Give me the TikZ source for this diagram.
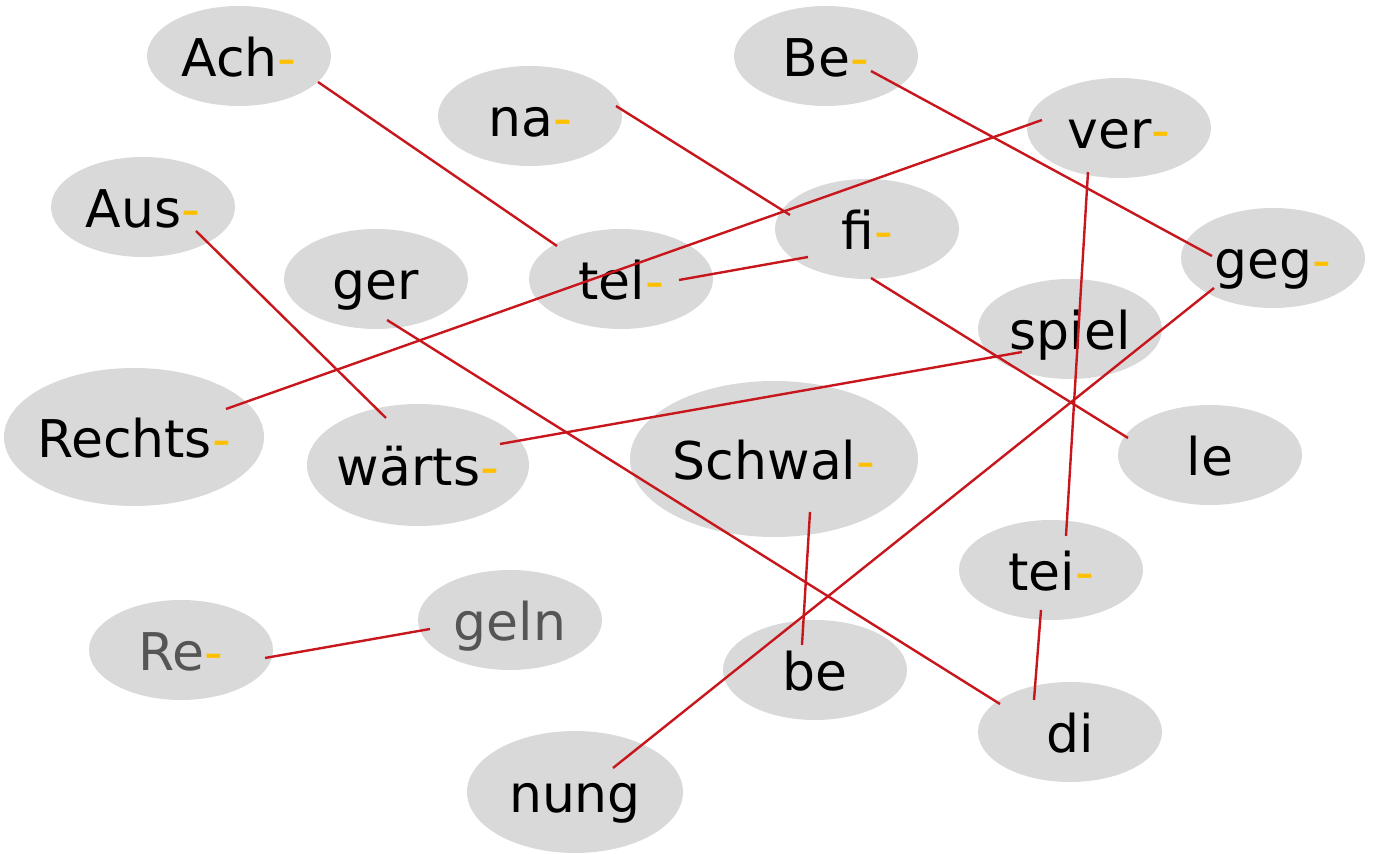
\documentclass[tikz,border=0pt]{standalone}
\usepackage{fontspec}
\setmainfont{DejaVu Sans}
\usetikzlibrary{shapes.geometric}
\definecolor{bubble}{HTML}{D9D9D9}
\definecolor{hyph}{HTML}{FFC000}
\definecolor{link}{HTML}{C8161D}
\definecolor{greytxt}{HTML}{555555}
\newcommand{\hy}{\textcolor{hyph}{-}}
\tikzset{
	syl/.style={ellipse, fill=bubble, inner sep=0pt, text height=26pt, text depth=5pt, minimum width=92pt, minimum height=50pt, font=\fontsize{26}{30}\selectfont},
	link/.style={draw=link, line width=1.2pt}
}
\begin{document}
\begin{tikzpicture}[x=0.5pt,y=-0.5pt]
		\useasboundingbox (0,0) rectangle (1373,854);
		
		\node[syl] (ach) at (239,56) {Ach\hy};
		\node[syl] (be1) at (826,56) {Be\hy};
		\node[syl] (na) at (530,116) {na\hy};
		\node[syl] (ver) at (1119,128) {ver\hy};
		\node[syl] (aus) at (143,207) {Aus\hy};
		\node[syl] (fi) at (867,229) {fi\hy};
		\node[syl] (geg) at (1273,258) {geg\hy};
		\node[syl] (ger) at (376,279) {ger};
		\node[syl] (tel) at (621,279) {tel\hy};
		\node[syl] (spiel) at (1070,329) {spiel};
		\node[syl, inner xsep=-2.8pt, minimum width=130pt, minimum height=69pt] (rechts) at (134,437) {Rechts\hy};
		\node[syl, inner xsep=-1.5pt, minimum width=111pt, minimum height=61pt] (waerts) at (418,465) {wärts\hy};
		\node[syl, minimum width=144pt, minimum height=78pt] (schwal) at (774,459) {Schwal\hy};
		\node[syl] (le) at (1210,455) {le};
		\node[syl] (tei) at (1051,570) {tei\hy};
		\node[syl, text=greytxt] (re) at (181,650) {Re\hy};
		\node[syl, text=greytxt] (geln) at (510,620) {geln};
		\node[syl] (be2) at (815,670) {be};
		\node[syl] (di) at (1070,732) {di};
		\node[syl, minimum width=108pt, minimum height=61pt] (nung) at (575,792) {nung};
		
		% lines between the syllables
		\foreach \a/\ax/\ay/\b/\bx/\by in {ach/79/26/tel/-64/-33, na/86/-10/fi/-77/-14, be1/45/15/geg/-61/-2,
			ver/-77/-8/rechts/92/-28, ver/-31/44/tei/15/-34, aus/53/24/waerts/-32/-47, tel/58/1/fi/-59/28,
			ger/11/41/di/-70/-28, fi/4/49/le/-82/-17, geg/-59/30/nung/38/-24, spiel/-48/23/waerts/82/-21,
			schwal/36/53/be2/-13/-25, tei/-10/40/di/-36/-32, re/84/8/geln/-80/9}{
			\draw[link] ([shift={(\ax,\ay)}]\a.center) -- ([shift={(\bx,\by)}]\b.center);
		}
\end{tikzpicture}
\end{document}
